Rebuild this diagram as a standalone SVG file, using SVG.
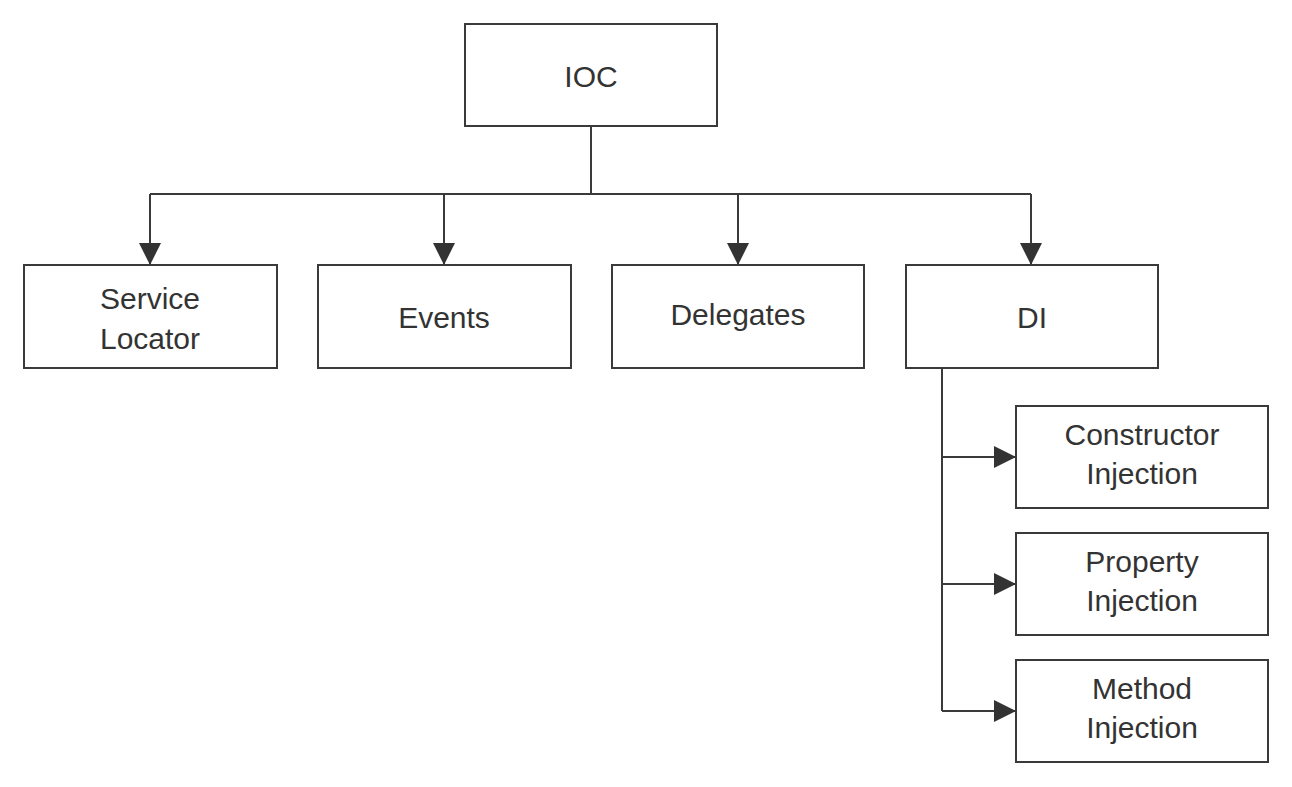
<svg xmlns="http://www.w3.org/2000/svg" width="1292" height="787" viewBox="0 0 1292 787">
<defs>
<style>
.box{fill:#fff;stroke:#3a3a3a;stroke-width:2}
.lbl{font-family:"Liberation Sans",Arial,sans-serif;font-size:30px;fill:#333;text-anchor:middle}
.con{fill:none;stroke:#3a3a3a;stroke-width:2}
</style>
<marker id="ah" viewBox="0 0 22 22" markerWidth="22" markerHeight="22" refX="22" refY="11" orient="auto" markerUnits="userSpaceOnUse">
<path d="M0,0 L22,11 L0,22 Z" fill="#333"/>
</marker>
</defs>
<rect width="1292" height="787" fill="#fff"/>
<g id="connectors">
<path class="con" d="M591,126 V194"/>
<path class="con" d="M150,194 H1031"/>
<path class="con" d="M150,194 V265" marker-end="url(#ah)"/>
<path class="con" d="M444,194 V265" marker-end="url(#ah)"/>
<path class="con" d="M738,194 V265" marker-end="url(#ah)"/>
<path class="con" d="M1031,194 V265" marker-end="url(#ah)"/>
<path class="con" d="M942,368 V711"/>
<path class="con" d="M942,457 H1016" marker-end="url(#ah)"/>
<path class="con" d="M942,584 H1016" marker-end="url(#ah)"/>
<path class="con" d="M942,711 H1016" marker-end="url(#ah)"/>
</g>
<g id="ioc"><rect class="box" x="465" y="24" width="252" height="102"/><text class="lbl" x="591" y="87">IOC</text></g>
<g id="service-locator"><rect class="box" x="24" y="265" width="253" height="103"/><text class="lbl" x="150" y="309">Service</text><text class="lbl" x="150" y="349">Locator</text></g>
<g id="events"><rect class="box" x="318" y="265" width="253" height="103"/><text class="lbl" x="444" y="328">Events</text></g>
<g id="delegates"><rect class="box" x="612" y="265" width="252" height="103"/><text class="lbl" x="738" y="325">Delegates</text></g>
<g id="di"><rect class="box" x="906" y="265" width="252" height="103"/><text class="lbl" x="1032" y="328">DI</text></g>
<g id="constructor-injection"><rect class="box" x="1016" y="406" width="252" height="102"/><text class="lbl" x="1142" y="445">Constructor</text><text class="lbl" x="1142" y="484">Injection</text></g>
<g id="property-injection"><rect class="box" x="1016" y="533" width="252" height="102"/><text class="lbl" x="1142" y="572">Property</text><text class="lbl" x="1142" y="611">Injection</text></g>
<g id="method-injection"><rect class="box" x="1016" y="660" width="252" height="102"/><text class="lbl" x="1142" y="699">Method</text><text class="lbl" x="1142" y="738">Injection</text></g>
</svg>
